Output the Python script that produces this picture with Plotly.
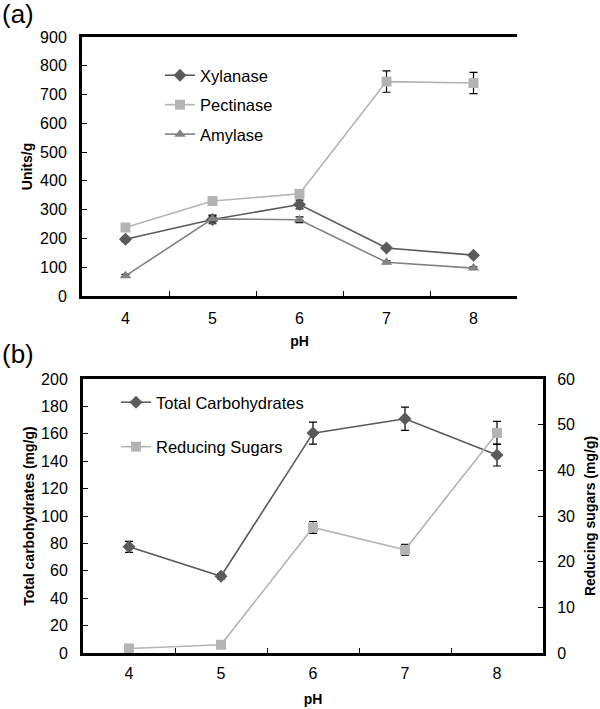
import plotly.graph_objects as go

ph = [4, 5, 6, 7, 8]
ph_labels = ["4", "5", "6", "7", "8"]

xylanase = [197, 266, 318, 167, 142]
xylanase_err = [8, 15, 15, 6, 5]
pectinase = [238, 330, 355, 745, 740]
pectinase_err = [5, 12, 12, 37, 37]
amylase = [70, 268, 265, 117, 97]
amylase_err = [5, 10, 10, 5, 4]

total_carbs = [77.5, 56, 160.5, 171, 144.5]
total_carbs_err = [4, 2, 8, 8.5, 8]
reducing_sugars = [1.0, 1.8, 27.5, 22.6, 48.2]
reducing_sugars_err = [0.3, 0.3, 1.3, 1.2, 2.5]

FONT = "Liberation Sans, Arial, sans-serif"
C_DARK = "#5a5a5a"
C_LIGHT = "#b4b4b4"
C_MID = "#828282"

def err(vals):
    return dict(type="data", array=vals, color="black", thickness=1.2, width=4)

fig = go.Figure()

fig.add_trace(go.Scatter(x=ph, y=xylanase, name="Xylanase", mode="lines+markers",
                         line=dict(color=C_DARK, width=1.6),
                         marker=dict(symbol="diamond", size=10, color=C_DARK),
                         error_y=err(xylanase_err), xaxis="x", yaxis="y",
                         legend="legend", legendgroup="a1"))
fig.add_trace(go.Scatter(x=ph, y=pectinase, name="Pectinase", mode="lines+markers",
                         line=dict(color=C_LIGHT, width=1.6),
                         marker=dict(symbol="square", size=10, color=C_LIGHT),
                         error_y=err(pectinase_err), xaxis="x", yaxis="y",
                         legend="legend", legendgroup="a2"))
fig.add_trace(go.Scatter(x=ph, y=amylase, name="Amylase", mode="lines+markers",
                         line=dict(color=C_MID, width=1.6),
                         marker=dict(symbol="triangle-up", size=10, color=C_MID),
                         error_y=err(amylase_err), xaxis="x", yaxis="y",
                         legend="legend", legendgroup="a3"))

fig.add_trace(go.Scatter(x=ph, y=total_carbs, name="Total Carbohydrates", mode="lines+markers",
                         line=dict(color=C_DARK, width=1.6),
                         marker=dict(symbol="diamond", size=10, color=C_DARK),
                         error_y=err(total_carbs_err), xaxis="x2", yaxis="y2",
                         legend="legend2", legendgroup="b1"))
fig.add_trace(go.Scatter(x=ph, y=reducing_sugars, name="Reducing Sugars", mode="lines+markers",
                         line=dict(color=C_LIGHT, width=1.6),
                         marker=dict(symbol="square", size=10, color=C_LIGHT),
                         error_y=err(reducing_sugars_err), xaxis="x2", yaxis="y3",
                         legend="legend2", legendgroup="b2"))

tickfont = dict(family=FONT, size=16, color="black")
titlefont = dict(family=FONT, size=14, color="black", weight="bold")
legfont = dict(family=FONT, size=16.5, color="black")

xcommon = dict(range=[3.5, 8.5], tickmode="array", tickvals=ph, ticktext=ph_labels,
               ticks="", showgrid=False, zeroline=False, showline=True, linecolor="black",
               linewidth=3, mirror=True, tickfont=tickfont, automargin=False,
               minor=dict(tickmode="array", tickvals=[4.5, 5.5, 6.5, 7.5], ticks="inside",
                          ticklen=5, tickcolor="black", tickwidth=1))
ycommon = dict(showgrid=False, zeroline=False, showline=True, linecolor="black", linewidth=3,
               ticks="inside", ticklen=5, tickcolor="black", tickwidth=1, tickfont=tickfont,
               automargin=False)

fig.update_layout(
    width=600, height=709,
    margin=dict(l=0, r=0, t=0, b=0),
    paper_bgcolor="white", plot_bgcolor="white",
    font=dict(family=FONT, color="black"),
    xaxis=dict(domain=[82/600, 517/600], anchor="y", ticklabelstandoff=6,
               title=dict(text="pH", font=titlefont, standoff=10), **xcommon),
    yaxis=dict(domain=[1-296/709, 1-37/709], anchor="x", range=[0, 900], dtick=100,
               ticklabelstandoff=9,
               title=dict(text="Units/g", font=titlefont, standoff=5), **ycommon),
    xaxis2=dict(domain=[83/600, 543/600], anchor="y2", ticklabelstandoff=4,
                title=dict(text="pH", font=titlefont, standoff=13), **xcommon),
    yaxis2=dict(domain=[1-653/709, 1-379/709], anchor="x2", range=[0, 200], dtick=20,
                ticklabelstandoff=9,
                title=dict(text="Total carbohydrates (mg/g)", font=titlefont, standoff=4), **ycommon),
    yaxis3=dict(overlaying="y2", side="right", anchor="x2", range=[0, 60], dtick=10,
                ticklabelstandoff=8,
                title=dict(text="Reducing sugars (mg/g)", font=titlefont, standoff=12), **ycommon),
    legend=dict(x=160/600, y=1-58/709, xanchor="left", yanchor="top",
                font=legfont, tracegroupgap=5,
                bgcolor="rgba(0,0,0,0)", itemwidth=30),
    legend2=dict(x=116/600, y=1-385/709, xanchor="left", yanchor="top",
                 font=legfont, tracegroupgap=20,
                 bgcolor="rgba(0,0,0,0)", itemwidth=30),
    showlegend=True,
    annotations=[
        dict(text="(a)", x=0, y=1, xref="paper", yref="paper", xanchor="left", yanchor="top",
             showarrow=False, font=dict(family=FONT, size=26, color="black"), yshift=3),
        dict(text="(b)", x=0, y=1-340/709, xref="paper", yref="paper", xanchor="left",
             yanchor="top", showarrow=False, font=dict(family=FONT, size=26, color="black"), yshift=3),
    ],
)

fig.write_html("out.html", config={"displayModeBar": False},
               post_script="document.body.style.margin='0';document.body.style.padding='0';")
